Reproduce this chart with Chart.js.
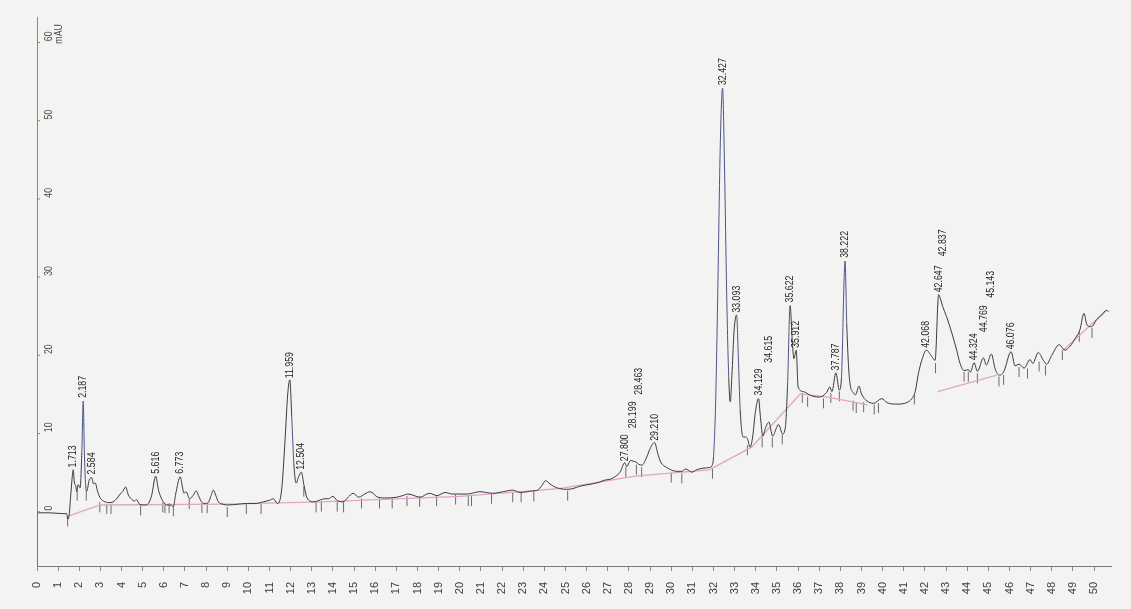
<!DOCTYPE html>
<html>
<head>
<meta charset="utf-8">
<title>Cromatograma</title>
<script src="https://cdn.jsdelivr.net/npm/chart.js@4.4.1/dist/chart.umd.min.js"></script>
<style>
  html, body { margin: 0; padding: 0; background: #f3f3f2; }
  #area { width: 1131px; height: 609px; position: relative; }
</style>
</head>
<body>
<div id="area"><canvas id="chartCromatograma"></canvas></div>
<script>
// tempo de retenção (min) x sinal do detector (mAU)
const tempos = [
  0, 0.6, 1.2, 1.4, 1.46, 1.52, 1.6, 1.66, 1.713, 1.77, 1.83, 1.88, 1.95, 2.04, 2.12, 2.187, 2.24, 2.3, 2.36, 2.46,
  2.584, 2.68, 2.76, 2.85, 2.97, 3.15, 3.4, 3.6, 3.8, 3.93, 4.05, 4.19, 4.32, 4.45, 4.6, 4.7, 4.85, 5.1, 5.27, 5.42,
  5.616, 5.74, 5.86, 6.0, 6.15, 6.32, 6.45, 6.56, 6.773, 6.88, 6.95, 7.05, 7.22, 7.38, 7.53, 7.64, 7.78, 7.95, 8.1, 8.22,
  8.34, 8.46, 8.58, 8.8, 9.0, 9.5, 9.95, 10.35, 10.7, 11.0, 11.17, 11.38, 11.57, 11.72, 11.86, 11.959, 12.05, 12.15, 12.26, 12.36,
  12.504, 12.63, 12.76, 12.92, 13.08, 13.35, 13.62, 13.78, 14.0, 14.18, 14.47, 14.72, 14.95, 15.22, 15.5, 15.76, 16.12, 16.55, 17.02, 17.3,
  17.55, 18.12, 18.56, 18.92, 19.3, 19.66, 20.35, 20.95, 21.55, 22.05, 22.5, 22.86, 23.45, 23.68, 23.88, 24.06, 24.22, 24.42, 24.72, 25.06,
  25.35, 25.68, 26.27, 26.58, 26.88, 27.12, 27.38, 27.58, 27.8, 27.9, 28.0, 28.08, 28.199, 28.33, 28.463, 28.62, 28.82, 29.0, 29.21, 29.36,
  29.5, 29.78, 30.27, 30.5, 30.68, 30.98, 31.2, 31.5, 31.82, 31.92, 32.0, 32.1, 32.2, 32.32, 32.427, 32.52, 32.62, 32.72, 32.79, 32.88,
  32.97, 33.093, 33.17, 33.26, 33.4, 33.5, 33.6, 33.73, 33.85, 33.97, 34.129, 34.22, 34.33, 34.45, 34.615, 34.8, 34.95, 35.07, 35.27, 35.4,
  35.5, 35.622, 35.72, 35.8, 35.912, 36.0, 36.25, 36.6, 37.0, 37.35, 37.5, 37.6, 37.787, 37.95, 38.05, 38.222, 38.3, 38.42, 38.62, 38.72,
  38.88, 39.0, 39.26, 39.57, 39.96, 40.2, 40.67, 41.14, 41.38, 41.54, 41.69, 41.85, 42.068, 42.32, 42.48, 42.647, 42.75, 42.837, 43.02, 43.27,
  43.5, 43.66, 43.85, 44.05, 44.15, 44.324, 44.48, 44.769, 44.9, 45.143, 45.32, 45.52, 45.72, 46.076, 46.26, 46.45, 46.69, 46.97, 47.1, 47.36,
  47.6, 47.76, 47.99, 48.35, 48.62, 48.86, 49.13, 49.33, 49.52, 49.67, 49.88, 50.12, 50.36, 50.59, 50.7
]
const sinal = [
  -0.2, -0.2, -0.3, -0.3, -1.0, -0.5, 2.2, 4.2, 5.3, 3.6, 3.3, 2.5, 3.4, 3.0, 7.5, 14.1, 7.5, 3.4, 2.6, 3.9,
  4.3, 3.5, 3.6, 2.7, 1.8, 1.3, 1.1, 1.2, 1.7, 2.2, 2.5, 3.1, 2.1, 1.6, 1.3, 1.5, 0.9, 0.8, 1.0, 2.0,
  4.5, 2.8, 1.8, 1.1, 0.8, 0.8, 0.6, 2.2, 4.4, 3.1, 2.3, 2.5, 1.6, 2.0, 2.6, 2.0, 1.2, 1.0, 1.1, 1.9,
  2.7, 2.0, 1.2, 0.9, 0.8, 0.9, 1.0, 1.0, 1.2, 1.4, 1.6, 1.0, 2.7, 8.5, 15.0, 16.8, 12.0, 6.0, 3.6, 4.3,
  5.0, 3.3, 1.8, 1.3, 1.2, 1.4, 1.6, 1.6, 1.9, 1.4, 1.2, 1.8, 2.3, 1.8, 2.2, 2.5, 1.8, 1.7, 1.8, 2.0,
  2.2, 1.8, 2.3, 2.0, 2.4, 2.2, 2.2, 2.5, 2.3, 2.5, 2.7, 2.4, 2.6, 2.7, 3.3, 3.9, 3.6, 3.2, 2.9, 2.8,
  2.9, 3.2, 3.5, 3.7, 4.0, 4.1, 4.5, 5.0, 6.2, 5.7, 6.2, 6.5, 6.4, 6.3, 6.0, 5.9, 6.8, 8.0, 8.8, 7.4,
  6.3, 5.6, 5.1, 5.1, 5.4, 5.0, 5.3, 5.5, 5.6, 5.8, 7.0, 14.0, 28.0, 47.0, 54.1, 44.0, 28.0, 17.0, 14.0, 18.0,
  23.0, 25.1, 20.0, 13.0, 9.5, 9.5, 9.3, 8.2, 9.5, 12.5, 14.4, 12.0, 9.6, 10.6, 11.4, 9.6, 10.5, 11.1, 9.9, 10.8,
  16.0, 26.3, 22.0, 19.5, 20.6, 15.9, 15.3, 14.8, 14.6, 15.2, 15.9, 15.3, 17.7, 15.5, 17.0, 32.0, 24.0, 17.2, 15.1, 14.9,
  16.0, 15.0, 14.1, 13.8, 14.4, 13.9, 13.7, 13.9, 14.4, 15.3, 17.6, 19.3, 20.6, 19.8, 19.3, 27.7, 27.0, 26.2, 24.9, 22.8,
  20.6, 18.9, 18.0, 18.1, 17.8, 19.0, 17.9, 19.6, 18.7, 20.1, 18.2, 17.4, 17.8, 20.4, 18.6, 18.8, 18.3, 19.4, 18.9, 20.3,
  19.3, 18.8, 19.9, 21.3, 20.6, 21.1, 22.2, 23.2, 25.3, 23.8, 23.6, 24.5, 25.1, 25.7, 25.5
]

// linha de base da integração (null separa os trechos)
const baseTempos = [1.5, 3.0, 9.0, 13.4, 20.0, 24.7, 28.3, 31.8, 33.8, 36.1, 37.4, 39.3, null, 42.6, 45.4, null, 48.5, 50.6]
const baseSinal = [-0.6, 0.8, 0.9, 1.2, 1.9, 2.9, 4.5, 5.3, 8.2, 15.0, 14.6, 13.6, null, 15.3, 17.4, null, 20.5, 25.7]

// marcas de início/fim de pico
const marcaTempos = [1.45, 1.9, 2.33, 2.97, 3.3, 3.5, 4.9, 5.95, 6.05, 6.25, 6.45, 7.2, 7.8, 8.05, 9.0, 9.9, 10.6, 12.62, 13.2, 13.45,
  14.2, 14.5, 15.35, 16.2, 16.8, 17.5, 18.1, 18.9, 19.8, 20.4, 20.55, 21.5, 22.5, 22.9, 23.5, 25.1, 27.85, 28.35, 28.6, 30.0,
  30.5, 31.95, 33.6, 34.3, 34.78, 35.25, 36.2, 36.45, 37.2, 37.55, 37.95, 38.6, 38.75, 39.1, 39.6, 39.8, 41.5, 42.5, 43.85, 44.05,
  44.48, 45.5, 45.72, 46.45, 46.85, 47.4, 47.7, 48.5, 49.3, 49.9]
const marcaSinal = [-1.3, 2.0, 2.0, 0.5, 0.3, 0.3, 0.1, 0.5, 0.4, 0.4, 0.0, 0.9, 0.4, 0.4, -0.1, 0.3, 0.3, 2.5, 0.5, 0.6,
  0.6, 0.5, 1.0, 1.0, 1.0, 1.3, 1.2, 1.3, 1.5, 1.3, 1.3, 1.6, 1.8, 1.8, 1.9, 2.0, 5.0, 5.3, 5.0, 4.3,
  4.2, 4.8, 7.8, 8.8, 8.8, 9.2, 14.5, 14.0, 13.8, 14.5, 14.7, 13.5, 13.2, 13.3, 13.0, 13.2, 14.3, 18.3, 17.2, 17.2,
  17.0, 16.6, 16.8, 17.8, 17.6, 18.5, 18.0, 20.0, 22.3, 22.8]

// picos identificados e altura (mAU) onde começa cada rótulo
const picos = [1.713, 2.187, 2.584, 5.616, 6.773, 11.959, 12.504, 27.800, 28.199, 28.463, 29.210, 32.427, 33.093,
  34.129, 34.615, 35.622, 35.912, 37.787, 38.222, 42.068, 42.647, 42.837, 44.324, 44.769, 45.143, 46.076]
const nivelRotulos = [5.6, 14.5, 4.7, 4.8, 4.8, 17.0, 5.3, 6.4, 10.6, 14.9, 9.0, 54.5, 25.4,
  14.8, 19.0, 26.7, 20.9, 18.0, 32.4, 20.9, 28.0, 32.6, 19.3, 22.9, 27.3, 20.7]

const marcasTempo = [0, 1, 2, 3, 4, 5, 6, 7, 8, 9, 10, 11, 12, 13, 14, 15, 16, 17, 18, 19, 20, 21, 22, 23, 24, 25,
  26, 27, 28, 29, 30, 31, 32, 33, 34, 35, 36, 37, 38, 39, 40, 41, 42, 43, 44, 45, 46, 47, 48, 49, 50]
const marcasSinal = [0, 10, 20, 30, 40, 50, 60]

const fonteEstreita = "'Liberation Sans Narrow', 'Liberation Sans', sans-serif"
// a impressora usa letra estreita: comprime o texto no sentido da leitura
const aperto = 0.8

function pares(xs, ys) {
  return xs.map((t, i) => ({ x: t, y: ys[i] }))
}

const papel = {
  id: 'papel',
  beforeDraw(chart) {
    const ctx = chart.ctx
    ctx.save()
    ctx.fillStyle = '#f3f3f2'
    ctx.fillRect(0, 0, chart.width, chart.height)
    ctx.restore()
  }
}

const rotulos = {
  id: 'rotulos',
  afterDraw(chart) {
    const ctx = chart.ctx
    const sx = chart.scales.x
    const sy = chart.scales.y
    const esq = chart.chartArea.left
    ctx.save()

    // trecho do eixo abaixo de zero sai em vermelho
    ctx.strokeStyle = '#b45a50'
    ctx.lineWidth = 1
    ctx.beginPath()
    ctx.moveTo(esq + 0.5, sy.getPixelForValue(0))
    ctx.lineTo(esq + 0.5, chart.chartArea.bottom)
    ctx.stroke()

    // escala y: marcas e números ficam para dentro do gráfico
    ctx.strokeStyle = '#8a8a78'
    ctx.fillStyle = '#4a4a4a'
    ctx.font = '11px ' + fonteEstreita
    ctx.textBaseline = 'alphabetic'
    ctx.textAlign = 'left'
    marcasSinal.forEach(v => {
      const py = sy.getPixelForValue(v)
      ctx.beginPath()
      ctx.moveTo(esq, py + 0.5)
      ctx.lineTo(esq + 3, py + 0.5)
      ctx.stroke()
      ctx.save()
      ctx.translate(esq + 15, py)
      ctx.rotate(-Math.PI / 2)
      ctx.scale(aperto, 1)
      ctx.fillText(String(v), 1, 0)
      if (v === 60) ctx.fillText('mAU', -2, 10)
      ctx.restore()
    })

    // tempos de retenção sobre os picos
    ctx.fillStyle = '#262626'
    ctx.font = '11px ' + fonteEstreita
    ctx.textBaseline = 'middle'
    picos.forEach((t, i) => {
      ctx.save()
      ctx.translate(sx.getPixelForValue(t), sy.getPixelForValue(nivelRotulos[i]))
      ctx.rotate(-Math.PI / 2)
      ctx.scale(aperto, 1)
      ctx.fillText(t.toFixed(3), 0, 0)
      ctx.restore()
    })
    ctx.restore()
  }
}

const chartCromatograma = document.getElementById('chartCromatograma')

const config = {
  type: 'line',
  data: {
    datasets: [{
      label: 'sinal',
      data: pares(tempos, sinal),
      borderColor: '#3b3b3b',
      borderWidth: 1,
      pointRadius: 0,
      cubicInterpolationMode: 'monotone',
      segment: {
        // subidas íngremes saem azuladas na impressão
        borderColor: ctx => Math.abs(ctx.p1.parsed.y - ctx.p0.parsed.y) / (ctx.p1.parsed.x - ctx.p0.parsed.x) > 60 ? '#4d5388' : undefined
      },
      order: 1
    }, {
      label: 'linha de base',
      data: pares(baseTempos, baseSinal),
      borderColor: '#e2a4c9',
      borderWidth: 1.3,
      pointRadius: 0,
      spanGaps: false,
      order: 2
    }, {
      label: 'marcas',
      data: pares(marcaTempos, marcaSinal),
      showLine: false,
      pointStyle: 'line',
      rotation: 90,
      pointRadius: 5,
      pointBorderColor: '#6a6a6a',
      pointBorderWidth: 1,
      order: 3
    }]
  },
  options: {
    responsive: true,
    maintainAspectRatio: false,
    animation: false,
    events: [],
    layout: { padding: { left: 37, right: 20, top: 17, bottom: 0 } },
    plugins: { legend: { display: false }, tooltip: { enabled: false } },
    scales: {
      x: {
        type: 'linear',
        min: 0,
        max: 50.8,
        afterBuildTicks: scale => { scale.ticks = marcasTempo.map(v => ({ value: v })) },
        afterFit: scale => { scale.height = 43 },
        ticks: {
          minRotation: 90,
          maxRotation: 90,
          padding: 11,
          color: '#404040',
          font: { family: fonteEstreita, size: 11 }
        },
        grid: { display: true, drawOnChartArea: false, tickLength: 5, color: '#8a8a8a' },
        border: { display: true, color: '#7a7a7a', width: 1 }
      },
      y: {
        type: 'linear',
        min: -7,
        max: 63.2,
        afterFit: scale => { scale.width = 0 },
        ticks: { display: false },
        grid: { display: false },
        border: { display: true, color: '#8a8a78', width: 1 }
      }
    }
  },
  plugins: [papel, rotulos]
}

let grafico = new Chart(chartCromatograma, config)
</script>
</body>
</html>
